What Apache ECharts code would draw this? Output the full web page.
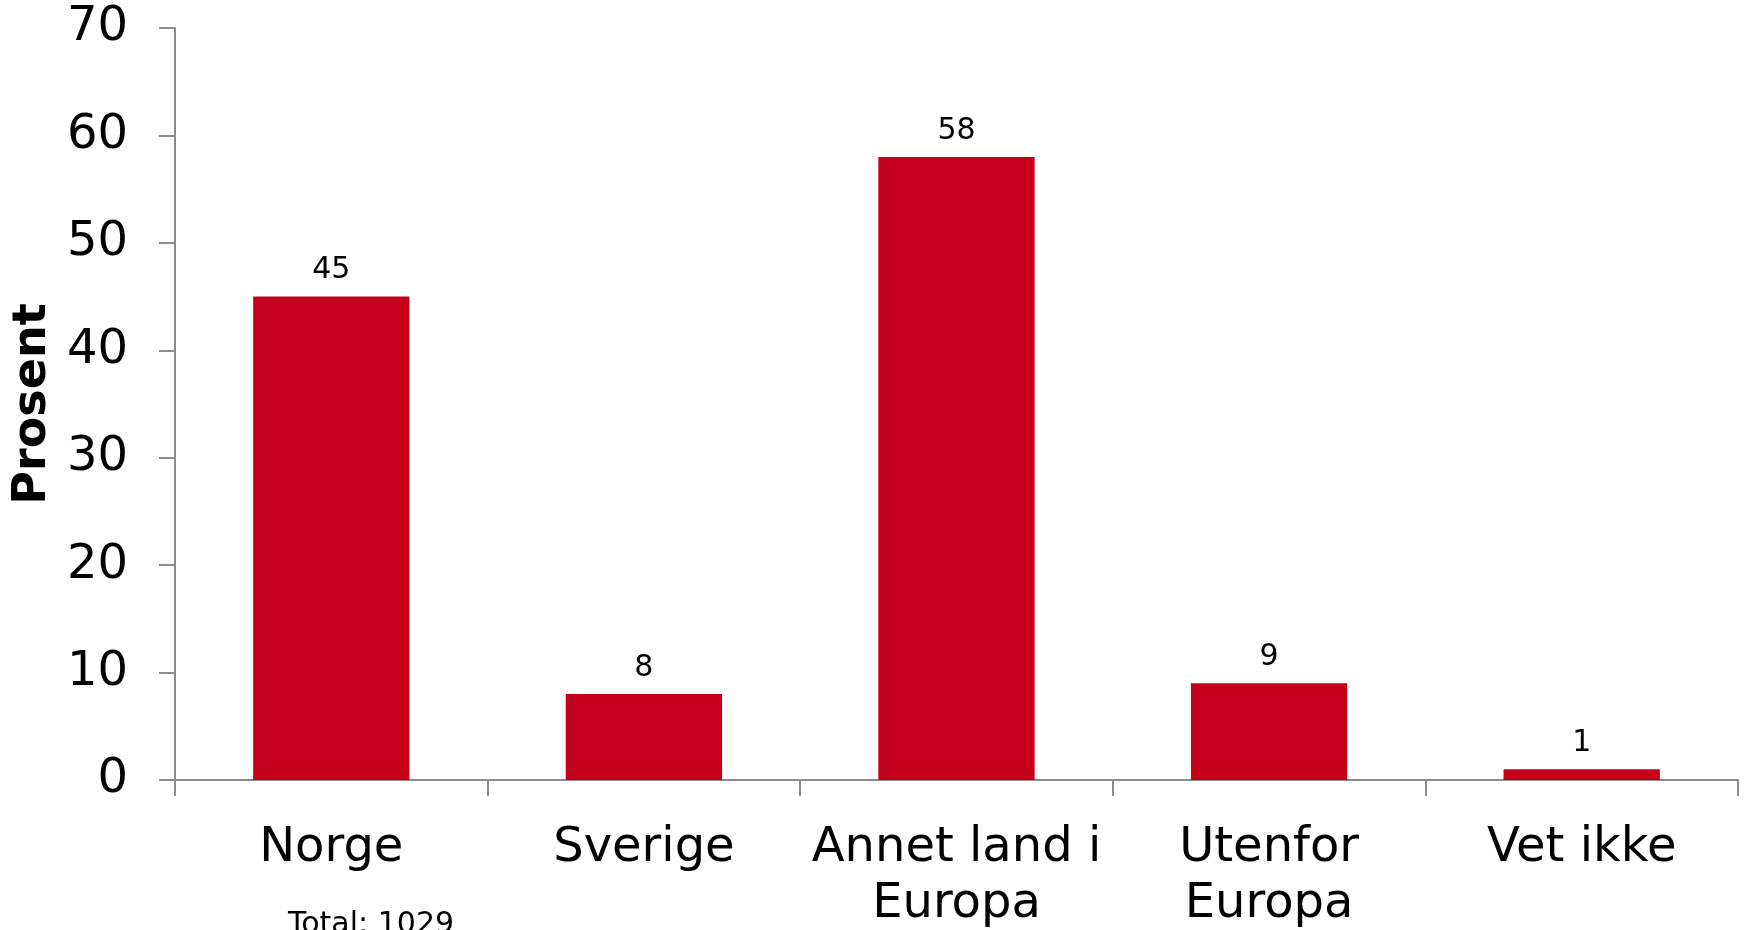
<!DOCTYPE html>
<html>
<head>
<meta charset="utf-8">
<script src="https://cdn.jsdelivr.net/npm/echarts@6/dist/echarts.min.js"></script>
<style>
html,body{margin:0;padding:0;background:#fff;}
#chart{width:1750px;height:930px;}
</style>
</head>
<body>
<div id="chart"></div>
<script>
const categories = ['Norge', 'Sverige', 'Annet land i\nEuropa', 'Utenfor\nEuropa', 'Vet ikke'];
const values = [45, 8, 58, 9, 1];
const yAxisTitle = 'Prosent';
const footnote = 'Total: 1029';

const FONT = 'DejaVu Sans, Verdana, sans-serif';
const axisColor = '#8c8c8c';
const chart = echarts.init(document.getElementById('chart'), null, {renderer: 'canvas'});
chart.setOption({
  animation: false,
  backgroundColor: '#ffffff',
  grid: {left: 175, right: 12, top: 28, bottom: 150, containLabel: false, outerBoundsMode: 'none'},
  xAxis: {
    type: 'category',
    data: categories,
    axisLine: {lineStyle: {color: axisColor, width: 2}},
    axisTick: {show: true, alignWithLabel: false, length: 16, lineStyle: {color: axisColor, width: 2}},
    axisLabel: {color: '#000', fontFamily: FONT, fontSize: 48, lineHeight: 56, margin: 41, interval: 0}
  },
  yAxis: {
    type: 'value',
    min: 0, max: 70, interval: 10,
    name: yAxisTitle,
    nameLocation: 'middle',
    nameRotate: 90,
    nameGap: 114,
    nameTextStyle: {color: '#000', fontFamily: FONT, fontSize: 46, fontWeight: 'bold'},
    splitLine: {show: false},
    axisLine: {show: true, lineStyle: {color: axisColor, width: 2}},
    axisTick: {show: true, length: 16, lineStyle: {color: axisColor, width: 2}},
    axisLabel: {color: '#000', fontFamily: FONT, fontSize: 48, margin: 47}
  },
  series: [{
    type: 'bar',
    data: values,
    barWidth: '50%',
    itemStyle: {color: '#C4001A'},
    label: {show: true, position: 'top', distance: 11, color: '#000', fontFamily: FONT, fontSize: 30}
  }],
  graphic: [{
    type: 'text',
    left: 288,
    top: 910,
    style: {text: footnote, fill: '#000', font: '30px ' + FONT}
  }]
});
</script>
</body>
</html>
